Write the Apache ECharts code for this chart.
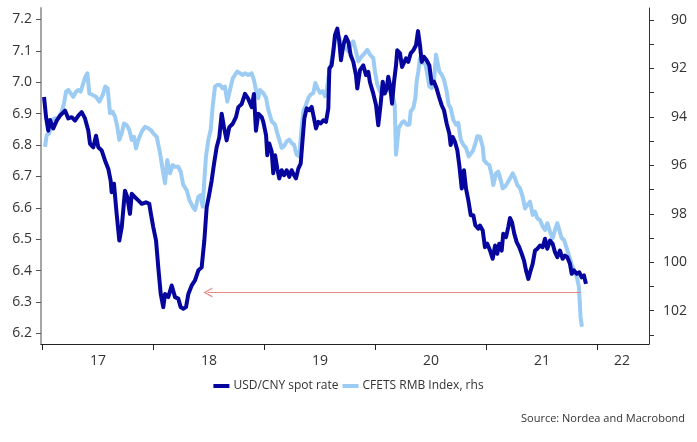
<!DOCTYPE html>
<html><head><meta charset="utf-8">
<script src="https://cdn.jsdelivr.net/npm/echarts@6/dist/echarts.min.js"></script>
<style>html,body{margin:0;padding:0;background:#fff}#c{width:697px;height:442px}</style>
</head><body><div id="c"></div>
<script>
// x values are decimal years
const usdCny = [[2017.014,6.953],[2017.032,6.889],[2017.052,6.846],[2017.068,6.88],[2017.097,6.853],[2017.128,6.878],[2017.158,6.894],[2017.203,6.91],[2017.232,6.885],[2017.263,6.889],[2017.293,6.878],[2017.323,6.894],[2017.353,6.905],[2017.383,6.885],[2017.413,6.846],[2017.428,6.804],[2017.458,6.793],[2017.482,6.83],[2017.503,6.793],[2017.533,6.783],[2017.563,6.751],[2017.593,6.724],[2017.614,6.687],[2017.623,6.65],[2017.644,6.677],[2017.668,6.581],[2017.692,6.496],[2017.714,6.539],[2017.743,6.655],[2017.764,6.634],[2017.788,6.581],[2017.804,6.645],[2017.833,6.634],[2017.863,6.624],[2017.894,6.613],[2017.932,6.618],[2017.962,6.613],[2017.977,6.58],[2017.998,6.539],[2018.023,6.496],[2018.043,6.411],[2018.065,6.326],[2018.088,6.284],[2018.104,6.326],[2018.133,6.316],[2018.164,6.353],[2018.194,6.316],[2018.223,6.311],[2018.245,6.284],[2018.268,6.279],[2018.293,6.284],[2018.314,6.326],[2018.344,6.353],[2018.374,6.369],[2018.404,6.401],[2018.434,6.411],[2018.458,6.496],[2018.479,6.602],[2018.503,6.645],[2018.524,6.687],[2018.545,6.74],[2018.569,6.793],[2018.593,6.825],[2018.614,6.9],[2018.635,6.857],[2018.659,6.815],[2018.683,6.857],[2018.714,6.868],[2018.743,6.889],[2018.764,6.921],[2018.795,6.931],[2018.824,6.963],[2018.854,6.947],[2018.885,6.921],[2018.905,6.963],[2018.923,6.846],[2018.944,6.9],[2018.975,6.889],[2018.989,6.874],[2019.014,6.832],[2019.025,6.768],[2019.043,6.805],[2019.065,6.779],[2019.079,6.71],[2019.095,6.768],[2019.115,6.725],[2019.133,6.694],[2019.155,6.72],[2019.176,6.704],[2019.2,6.72],[2019.223,6.699],[2019.245,6.72],[2019.266,6.704],[2019.284,6.694],[2019.305,6.725],[2019.326,6.741],[2019.344,6.821],[2019.359,6.885],[2019.38,6.917],[2019.404,6.911],[2019.425,6.922],[2019.446,6.885],[2019.464,6.853],[2019.485,6.874],[2019.506,6.869],[2019.53,6.879],[2019.554,6.874],[2019.575,6.917],[2019.584,7.044],[2019.605,7.054],[2019.62,7.097],[2019.635,7.15],[2019.656,7.171],[2019.674,7.129],[2019.689,7.07],[2019.71,7.118],[2019.734,7.145],[2019.755,7.129],[2019.777,7.086],[2019.8,7.065],[2019.824,7.023],[2019.836,6.98],[2019.86,7.039],[2019.89,7.054],[2019.914,7.023],[2019.935,7.033],[2019.95,7.0],[2019.98,6.964],[2020.005,6.927],[2020.025,6.863],[2020.047,6.932],[2020.065,7.002],[2020.083,6.964],[2020.101,6.98],[2020.115,7.018],[2020.131,6.991],[2020.149,6.932],[2020.167,7.002],[2020.185,7.054],[2020.196,7.102],[2020.221,7.092],[2020.239,7.049],[2020.257,7.044],[2020.275,7.076],[2020.295,7.065],[2020.317,7.092],[2020.341,7.102],[2020.365,7.118],[2020.383,7.163],[2020.401,7.118],[2020.416,7.065],[2020.437,7.081],[2020.461,7.07],[2020.485,7.054],[2020.506,6.996],[2020.527,7.002],[2020.551,6.98],[2020.572,6.954],[2020.596,6.927],[2020.617,6.911],[2020.641,6.869],[2020.665,6.837],[2020.677,6.8],[2020.695,6.826],[2020.716,6.81],[2020.737,6.784],[2020.755,6.736],[2020.777,6.662],[2020.797,6.72],[2020.815,6.662],[2020.836,6.625],[2020.858,6.577],[2020.881,6.577],[2020.899,6.545],[2020.926,6.534],[2020.941,6.544],[2020.966,6.528],[2020.986,6.475],[2021.007,6.486],[2021.032,6.464],[2021.056,6.438],[2021.077,6.48],[2021.097,6.454],[2021.115,6.486],[2021.137,6.464],[2021.151,6.518],[2021.176,6.507],[2021.196,6.539],[2021.212,6.568],[2021.23,6.554],[2021.25,6.518],[2021.272,6.491],[2021.295,6.475],[2021.317,6.454],[2021.338,6.432],[2021.356,6.401],[2021.377,6.374],[2021.398,6.401],[2021.416,6.422],[2021.437,6.464],[2021.458,6.47],[2021.482,6.48],[2021.506,6.475],[2021.527,6.502],[2021.548,6.47],[2021.572,6.496],[2021.596,6.486],[2021.617,6.459],[2021.638,6.443],[2021.662,6.464],[2021.686,6.438],[2021.707,6.448],[2021.728,6.443],[2021.752,6.422],[2021.768,6.39],[2021.788,6.401],[2021.813,6.39],[2021.836,6.395],[2021.858,6.379],[2021.878,6.385],[2021.896,6.358]];

const cfetsIndex = [[2017.023,95.23],[2017.038,94.75],[2017.061,94.68],[2017.083,94.13],[2017.113,94.06],[2017.142,94.06],[2017.173,93.79],[2017.194,93.44],[2017.212,92.96],[2017.232,92.89],[2017.254,93.03],[2017.277,93.17],[2017.302,92.96],[2017.323,92.89],[2017.344,92.96],[2017.368,92.61],[2017.386,92.34],[2017.404,92.2],[2017.422,93.03],[2017.452,93.1],[2017.482,93.17],[2017.512,93.37],[2017.542,93.1],[2017.566,92.75],[2017.587,92.82],[2017.608,93.85],[2017.632,93.79],[2017.653,93.99],[2017.674,94.41],[2017.692,94.95],[2017.714,94.68],[2017.734,94.27],[2017.759,94.34],[2017.782,94.54],[2017.804,94.95],[2017.824,94.82],[2017.842,95.3],[2017.863,94.95],[2017.894,94.61],[2017.923,94.41],[2017.953,94.47],[2017.984,94.58],[2017.998,94.68],[2018.029,94.82],[2018.059,95.5],[2018.088,96.33],[2018.104,96.74],[2018.124,95.78],[2018.149,96.33],[2018.173,95.99],[2018.194,96.06],[2018.223,96.06],[2018.245,96.26],[2018.268,96.81],[2018.299,97.02],[2018.323,97.43],[2018.353,97.71],[2018.374,97.84],[2018.404,97.3],[2018.425,97.23],[2018.443,97.71],[2018.458,96.61],[2018.473,95.64],[2018.494,94.95],[2018.515,94.54],[2018.533,93.58],[2018.554,92.75],[2018.575,92.68],[2018.599,92.68],[2018.623,92.82],[2018.644,92.75],[2018.665,93.37],[2018.689,92.89],[2018.714,92.41],[2018.734,92.27],[2018.755,92.13],[2018.779,92.2],[2018.804,92.27],[2018.824,92.2],[2018.854,92.27],[2018.885,92.2],[2018.905,92.48],[2018.923,92.89],[2018.944,93.23],[2018.959,92.89],[2018.989,93.01],[2019.014,93.22],[2019.034,93.7],[2019.065,94.18],[2019.095,94.32],[2019.115,94.67],[2019.133,94.94],[2019.155,95.28],[2019.176,95.21],[2019.2,95.01],[2019.223,94.94],[2019.245,95.08],[2019.266,95.15],[2019.29,95.56],[2019.314,95.63],[2019.329,94.73],[2019.35,93.77],[2019.374,93.5],[2019.395,93.22],[2019.416,93.08],[2019.44,93.01],[2019.458,92.6],[2019.476,92.81],[2019.5,93.01],[2019.524,92.94],[2019.545,93.15],[2019.56,92.94],[2019.575,92.39],[2019.596,91.85],[2019.614,91.43],[2019.635,90.81],[2019.656,90.54],[2019.68,90.81],[2019.705,91.02],[2019.734,91.16],[2019.755,91.29],[2019.777,91.02],[2019.8,90.88],[2019.824,91.29],[2019.845,91.71],[2019.876,91.5],[2019.905,91.36],[2019.926,91.23],[2019.95,91.43],[2019.98,91.57],[2019.995,92.12],[2020.016,92.67],[2020.041,92.94],[2020.065,92.81],[2020.086,93.01],[2020.106,92.74],[2020.131,92.94],[2020.155,93.15],[2020.173,93.5],[2020.185,95.56],[2020.196,95.56],[2020.209,94.46],[2020.236,94.25],[2020.257,94.18],[2020.281,94.32],[2020.305,94.32],[2020.317,93.77],[2020.341,93.63],[2020.359,93.22],[2020.371,92.53],[2020.386,92.12],[2020.401,91.57],[2020.425,91.78],[2020.446,91.71],[2020.467,92.26],[2020.485,92.74],[2020.506,92.81],[2020.527,92.53],[2020.545,91.43],[2020.557,91.43],[2020.575,92.12],[2020.596,92.26],[2020.617,92.46],[2020.641,92.94],[2020.659,93.5],[2020.677,93.63],[2020.701,94.12],[2020.725,94.32],[2020.746,94.25],[2020.768,94.94],[2020.791,95.15],[2020.815,95.28],[2020.84,95.63],[2020.858,95.7],[2020.876,95.42],[2020.896,95.15],[2020.917,94.8],[2020.941,94.82],[2020.966,95.23],[2020.977,95.78],[2021.002,95.92],[2021.025,95.99],[2021.047,96.4],[2021.061,96.81],[2021.086,96.33],[2021.106,96.26],[2021.128,96.61],[2021.146,96.95],[2021.167,96.88],[2021.187,96.74],[2021.212,96.54],[2021.236,96.33],[2021.257,96.54],[2021.277,96.81],[2021.302,96.95],[2021.326,97.3],[2021.347,97.78],[2021.368,97.64],[2021.392,97.5],[2021.416,98.05],[2021.437,97.91],[2021.458,98.19],[2021.482,98.26],[2021.506,98.53],[2021.527,98.67],[2021.548,98.39],[2021.572,98.74],[2021.596,99.01],[2021.617,98.67],[2021.638,98.39],[2021.656,98.67],[2021.677,99.01],[2021.698,99.08],[2021.716,99.08],[2021.728,99.5],[2021.746,99.77],[2021.768,100.12],[2021.788,100.32],[2021.813,100.6],[2021.832,101.01],[2021.841,101.7],[2021.847,102.25],[2021.857,102.59],[2021.86,102.66]];

const seriesNames = ['USD/CNY spot rate', 'CFETS RMB Index, rhs'];
const leftTicks = [6.2, 6.3, 6.4, 6.5, 6.6, 6.7, 6.8, 6.9, 7.0, 7.1, 7.2];
const rightLabels = [90, 92, 94, 96, 98, 100, 102];
const rightTicks = [90, 91, 92, 93, 94, 95, 96, 97, 98, 99, 100, 101, 102, 103];
const yearTicks = [2017, 2018, 2019, 2020, 2021, 2022];
const yearLabelPos = [2017.5, 2018.5, 2019.5, 2020.5, 2021.5, 2022.22];
const arrowLine = { level: 6.331, from: 2021.851, to: 2018.49 };
const sourceText = 'Source: Nordea and Macrobond';

const FONT = '"Open Sans", "Noto Sans", sans-serif';
const TXT = '#333333';
const chart = echarts.init(document.getElementById('c'), null, { renderer: 'canvas' });

chart.setOption({
  animation: false,
  backgroundColor: '#ffffff',
  textStyle: { fontFamily: FONT },
  grid: { left: 41, right: 48, top: 8, bottom: 98, containLabel: false },
  legend: {
    data: seriesNames,
    left: 'center',
    top: 375,
    icon: 'rect',
    itemWidth: 16,
    itemHeight: 4,
    itemGap: 4,
    textStyle: { fontFamily: FONT, fontSize: 12, color: TXT, padding: [0, 0, 0, -1] }
  },
  xAxis: {
    type: 'value',
    min: 2016.9865,
    max: 2022.464,
    splitLine: { show: false },
    axisLine: { show: true, onZero: false, lineStyle: { color: '#222', width: 1.2 } },
    axisTick: { show: true, customValues: yearTicks, length: 6, lineStyle: { color: '#222' } },
    axisLabel: {
      customValues: yearLabelPos,
      formatter: v => String(Math.floor(v)).slice(2),
      fontFamily: FONT, fontSize: 14, color: TXT, margin: 10
    }
  },
  yAxis: [
    {
      type: 'value',
      position: 'left',
      min: 6.1666,
      max: 7.2366,
      splitLine: { show: false },
      axisLine: { show: true, lineStyle: { color: '#a6a6a6', width: 2 } },
      axisTick: { show: true, customValues: leftTicks, length: 5, lineStyle: { color: '#555' } },
      axisLabel: {
        customValues: leftTicks,
        formatter: v => v.toFixed(1),
        fontFamily: FONT, fontSize: 14, color: TXT, margin: 9
      }
    },
    {
      type: 'value',
      position: 'right',
      inverse: true,
      min: 89.505,
      max: 103.377,
      splitLine: { show: false },
      axisLine: { show: true, lineStyle: { color: '#333', width: 1 } },
      axisTick: { show: true, customValues: rightTicks, length: 5, lineStyle: { color: '#333' } },
      axisLabel: {
        customValues: rightLabels,
        formatter: v => String(Math.round(v)),
        align: 'right',
        fontFamily: FONT, fontSize: 14, color: TXT, margin: 38
      }
    }
  ],
  series: [
    {
      name: seriesNames[0],
      type: 'line',
      yAxisIndex: 0,
      data: usdCny,
      symbol: 'none',
      z: 3,
      color: '#06069e',
      lineStyle: { color: '#06069e', width: 4, join: 'round' },
      markLine: {
        silent: true,
        animation: false,
        symbol: ['none', 'path://M0,10 L5,0 L10,10 L8.6,10 L5,2.6 L1.4,10 Z'],
        symbolSize: [10, 9],
        label: { show: false },
        lineStyle: { color: '#e88585', width: 1, type: 'solid' },
        data: [[
          { coord: [arrowLine.from, arrowLine.level] },
          { coord: [arrowLine.to, arrowLine.level] }
        ]]
      }
    },
    {
      name: seriesNames[1],
      type: 'line',
      yAxisIndex: 1,
      data: cfetsIndex,
      symbol: 'none',
      z: 2,
      color: '#9ccbf4',
      lineStyle: { color: '#9ccbf4', width: 4, join: 'round' }
    }
  ],
  graphic: [{
    type: 'text',
    right: 12,
    top: 413,
    style: { text: sourceText, font: '11px "Open Sans", sans-serif', fill: TXT }
  }]
});
</script>
</body></html>
